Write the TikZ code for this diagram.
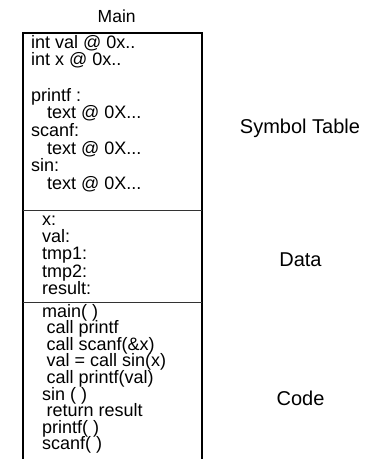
\documentclass[tikz,border=0pt]{standalone}
\usepackage{fontspec}
\setmainfont{Liberation Sans}
\newcommand{\varaddr}{0x..}
\newcommand{\textaddr}{text @ 0X...}
\begin{document}
\begin{tikzpicture}[x=1pt, y=-1pt,
  txt/.style={font=\fontsize{18}{18}\selectfont, inner sep=0pt, anchor=base west},
  section/.style={font=\fontsize{20}{20}\selectfont, inner sep=0pt},
  frame/.style={line width=2pt, line join=miter},
  divider/.style={line width=1pt, black!80}]
  \useasboundingbox (0,0) rectangle (370,459);

  % Corners of the memory block
  \coordinate (bl) at (23,460);
  \coordinate (tl) at (23,33);
  \coordinate (tr) at (201.5,33);
  \coordinate (br) at (201.5,460);
  \coordinate (d1l) at (23,210.5);
  \coordinate (d1r) at (201.5,210.5);
  \coordinate (d2l) at (23,302);
  \coordinate (d2r) at (201.5,302);

  % Block outline and dividers
  \draw[frame] (bl) -- (tl) -- (tr) -- (br);
  \draw[divider] (d1l) -- (d1r);
  \draw[divider] (d2l) -- (d2r);

  % Title
  \node[font=\fontsize{17.5}{17.5}\selectfont, inner sep=0pt] (main) at (116.7,16) {Main};

  % Symbol table entries
  \foreach \entry [count=\i from 0] in {int val @ \varaddr, int x @ \varaddr, {},
      printf :, {\hspace*{16pt}\textaddr}, scanf:, {\hspace*{16pt}\textaddr},
      sin:, {\hspace*{16pt}\textaddr}}
    \node[txt] (sym-\i) at (31,48+17.7*\i) {\entry};

  % Data entries
  \foreach \entry [count=\i from 0] in {x:, val:, tmp1:, tmp2:, result:}
    \node[txt] (dat-\i) at (42,225+17.4*\i) {\entry};

  % Code entries
  \foreach \entry [count=\i from 0] in {main( ), {\hspace*{4.5pt}call printf},
      {\hspace*{4.5pt}call scanf(\&x)}, {\hspace*{4.5pt}val = call sin(x)},
      {\hspace*{4.5pt}call printf(val)}, sin ( ), {\hspace*{4.5pt}return result},
      printf( ), scanf( )}
    \node[txt] (cod-\i) at (42,317+16.6*\i) {\entry};

  % Section names
  \node[section] (symlabel) at (300,128.3) {Symbol Table};
  \node[section] (datalabel) at (300.5,260) {Data};
  \node[section] (codelabel) at (300.5,398.3) {Code};
\end{tikzpicture}
\end{document}
